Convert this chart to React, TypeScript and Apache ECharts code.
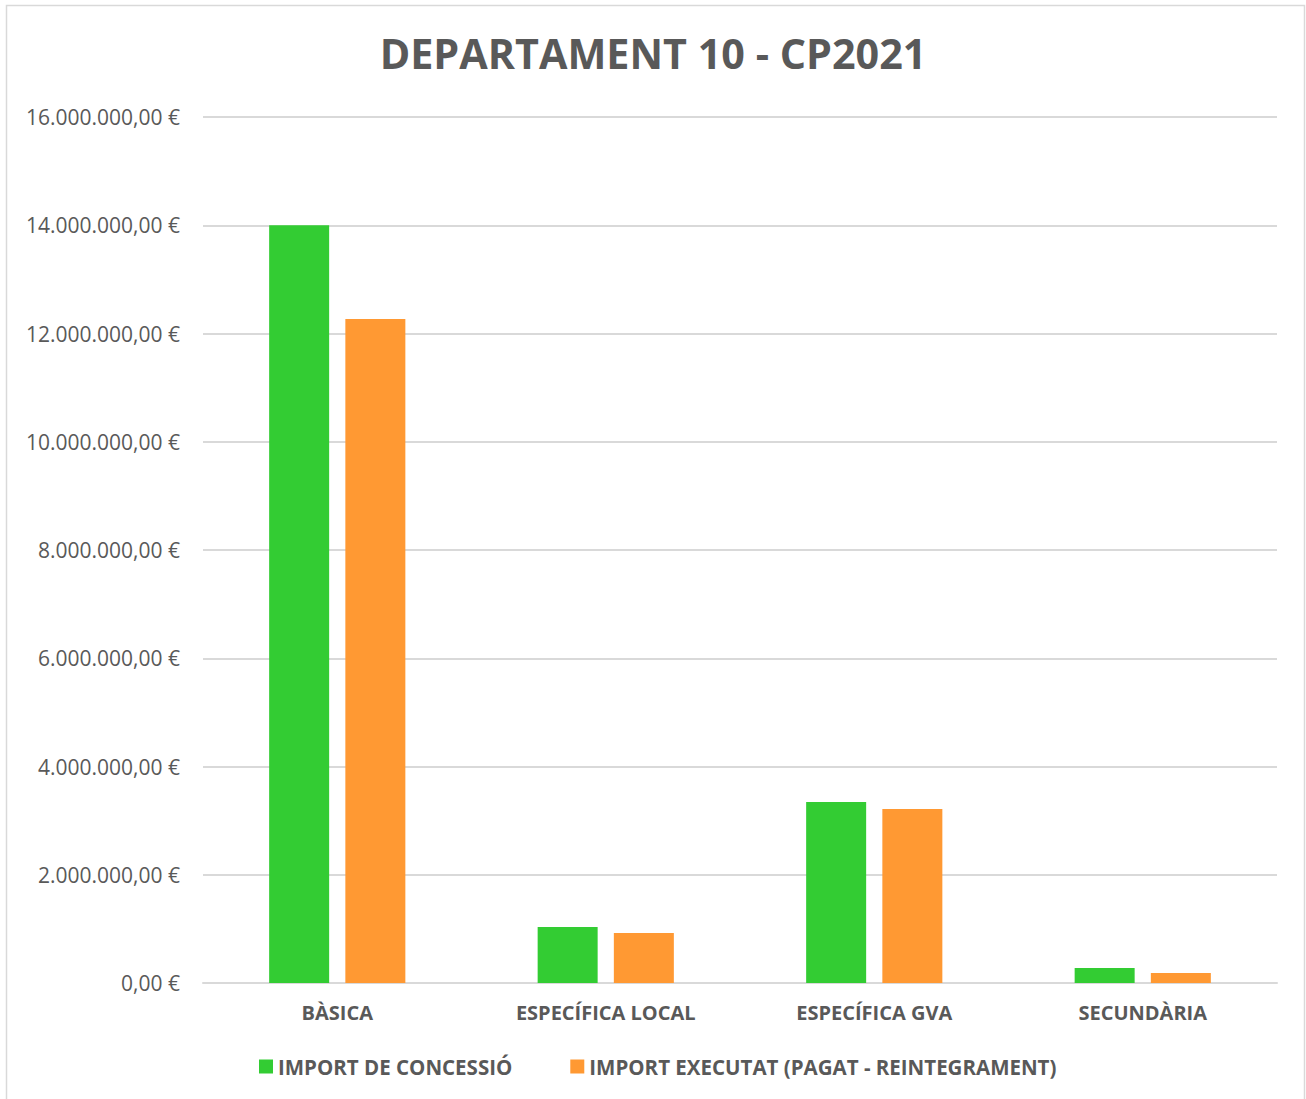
import React, { useEffect, useRef } from "react";
import * as echarts from "echarts";

const categories = ["BÀSICA", "ESPECÍFICA LOCAL", "ESPECÍFICA GVA", "SECUNDÀRIA"];
const seriesNames = ["IMPORT DE CONCESSIÓ", "IMPORT EXECUTAT (PAGAT - REINTEGRAMENT)"];
const concessio = [14000000, 1035000, 3345000, 277000];
const executat = [12270000, 924000, 3215000, 185000];
const yMin = 0;
const yMax = 16000000;
const yInterval = 2000000;

function formatEuro(v: number): string {
  const intPart = Math.floor(v).toString().replace(/\B(?=(\d{3})+(?!\d))/g, ".");
  return intPart + ",00 €";
}

export default function App() {
  const ref = useRef<HTMLDivElement>(null);
  useEffect(() => {
    document.body.style.margin = "0";
    const chart = echarts.init(ref.current!, null, { renderer: "svg" });
    const font = "'Open Sans', sans-serif";
    chart.setOption({
      animation: false,
      backgroundColor: "#ffffff",
      graphic: [
        {
          type: "rect",
          shape: { x: 6.5, y: 5.5, width: 1298, height: 1110 },
          style: { fill: "none", stroke: "#d9d9d9", lineWidth: 1.5 },
          silent: true,
        },
      ],
      title: {
        text: "DEPARTAMENT 10 - CP2021",
        left: "center",
        top: 27,
        textStyle: { fontFamily: font, fontWeight: "bold", fontSize: 41.3, color: "#595959" },
      },
      legend: {
        left: 259,
        top: 1056,
        padding: 0,
        icon: "rect",
        itemWidth: 14,
        itemHeight: 14,
        itemGap: 58,
        textStyle: { fontFamily: font, fontWeight: "bold", fontSize: 20.5, color: "#595959" },
        data: seriesNames,
      },
      grid: { left: 203, right: 29, top: 117, bottom: 116, containLabel: false },
      xAxis: {
        type: "category",
        data: categories,
        axisLine: { lineStyle: { color: "#d9d9d9", width: 2 } },
        axisTick: { show: false },
        axisLabel: { fontFamily: font, fontWeight: "bold", fontSize: 20, color: "#595959", margin: 19 },
      },
      yAxis: {
        type: "value",
        min: yMin,
        max: yMax,
        interval: yInterval,
        axisLine: { show: false },
        axisTick: { show: false },
        splitLine: { lineStyle: { color: "#d9d9d9", width: 2 } },
        axisLabel: { fontFamily: font, fontSize: 21, color: "#595959", margin: 23, formatter: formatEuro },
      },
      series: [
        {
          name: seriesNames[0],
          type: "bar",
          data: concessio,
          barWidth: 60,
          barGap: "27%",
          itemStyle: { color: "#33cc33" },
        },
        {
          name: seriesNames[1],
          type: "bar",
          data: executat,
          barWidth: 60,
          barGap: "27%",
          itemStyle: { color: "#ff9933" },
        },
      ],
    });
    return () => chart.dispose();
  }, []);
  return <div ref={ref} style={{ width: 1306, height: 1099 }} />;
}
